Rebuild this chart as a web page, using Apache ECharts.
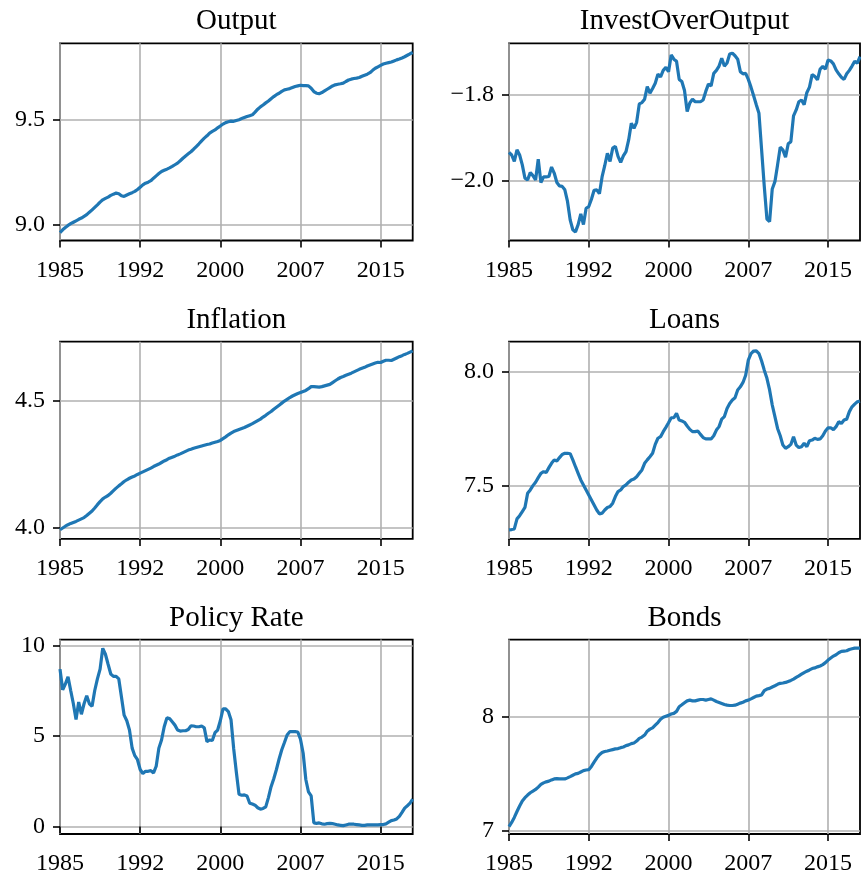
<!DOCTYPE html>
<html>
<head>
<meta charset="utf-8">
<script src="https://cdn.jsdelivr.net/npm/echarts@6/dist/echarts.min.js"></script>
<style>
  html, body { margin: 0; padding: 0; background: #fff; }
  #chart { width: 861px; height: 876px; }
</style>
</head>
<body>
<div id="chart"></div>
<script>
// quarterly data, 1985Q1 .. 2018Q1 (x = quarter index)
const xTickIndex = [0, 30, 60, 90, 120]
const xTickLabels = ['1985', '1992', '2000', '2007', '2015']

const output = [
  8.963, 8.976, 8.987, 8.997, 9.005, 9.012, 9.019, 9.026, 9.032, 9.040,
  9.048, 9.060, 9.071, 9.083, 9.095, 9.108, 9.119, 9.126, 9.132, 9.140,
  9.146, 9.151, 9.148, 9.138, 9.135, 9.142, 9.148, 9.153, 9.159, 9.168,
  9.179, 9.190, 9.198, 9.203, 9.210, 9.222, 9.233, 9.244, 9.254, 9.260,
  9.265, 9.271, 9.278, 9.286, 9.294, 9.305, 9.317, 9.328, 9.338, 9.348,
  9.360, 9.373, 9.386, 9.400, 9.413, 9.424, 9.437, 9.445, 9.452, 9.462,
  9.471, 9.480, 9.487, 9.491, 9.494, 9.493, 9.497, 9.501, 9.506, 9.511,
  9.516, 9.520, 9.524, 9.537, 9.551, 9.562, 9.571, 9.581, 9.590, 9.601,
  9.611, 9.620, 9.627, 9.636, 9.643, 9.646, 9.649, 9.654, 9.659, 9.662,
  9.665, 9.663, 9.663, 9.662, 9.651, 9.635, 9.627, 9.625, 9.630, 9.638,
  9.646, 9.654, 9.662, 9.667, 9.670, 9.672, 9.675, 9.683, 9.690, 9.694,
  9.697, 9.699, 9.702, 9.708, 9.713, 9.718, 9.725, 9.736, 9.746, 9.753,
  9.760, 9.766, 9.770, 9.773, 9.776, 9.781, 9.786, 9.790, 9.795, 9.801,
  9.808, 9.815, 9.821
]

const investOverOutput = [
  -1.934, -1.940, -1.955, -1.928, -1.940, -1.963, -1.994, -1.998, -1.981, -1.988,
  -1.998, -1.950, -2.004, -1.991, -1.991, -1.990, -1.968, -1.982, -2.004, -2.012,
  -2.013, -2.021, -2.048, -2.091, -2.114, -2.119, -2.102, -2.077, -2.102, -2.064,
  -2.060, -2.043, -2.022, -2.021, -2.030, -1.991, -1.965, -1.936, -1.955, -1.924,
  -1.920, -1.943, -1.957, -1.942, -1.932, -1.905, -1.866, -1.878, -1.864, -1.821,
  -1.818, -1.810, -1.781, -1.796, -1.785, -1.773, -1.752, -1.758, -1.743, -1.736,
  -1.746, -1.707, -1.717, -1.722, -1.764, -1.769, -1.790, -1.839, -1.819, -1.810,
  -1.816, -1.816, -1.816, -1.812, -1.792, -1.775, -1.779, -1.750, -1.743, -1.733,
  -1.715, -1.733, -1.726, -1.705, -1.703, -1.709, -1.717, -1.746, -1.751, -1.750,
  -1.764, -1.782, -1.802, -1.823, -1.843, -1.928, -2.013, -2.089, -2.095, -2.019,
  -2.002, -1.963, -1.922, -1.928, -1.945, -1.914, -1.909, -1.849, -1.835, -1.816,
  -1.812, -1.823, -1.795, -1.782, -1.753, -1.757, -1.765, -1.740, -1.734, -1.740,
  -1.719, -1.721, -1.728, -1.742, -1.751, -1.759, -1.764, -1.751, -1.743, -1.733,
  -1.722, -1.726, -1.711
]

const inflation = [
  3.991, 3.998, 4.005, 4.011, 4.016, 4.020, 4.024, 4.029, 4.034, 4.039,
  4.047, 4.056, 4.065, 4.077, 4.090, 4.102, 4.113, 4.120, 4.126, 4.135,
  4.145, 4.155, 4.164, 4.172, 4.181, 4.188, 4.194, 4.199, 4.203, 4.209,
  4.214, 4.219, 4.224, 4.229, 4.234, 4.240, 4.245, 4.250, 4.256, 4.262,
  4.267, 4.273, 4.277, 4.281, 4.286, 4.290, 4.295, 4.300, 4.305, 4.308,
  4.312, 4.315, 4.318, 4.321, 4.324, 4.327, 4.329, 4.333, 4.336, 4.339,
  4.343, 4.350, 4.357, 4.365, 4.372, 4.378, 4.382, 4.386, 4.390, 4.394,
  4.399, 4.404, 4.409, 4.415, 4.421, 4.427, 4.435, 4.442, 4.450, 4.457,
  4.466, 4.474, 4.482, 4.490, 4.498, 4.505, 4.512, 4.518, 4.523, 4.528,
  4.532, 4.536, 4.540, 4.547, 4.555, 4.555, 4.554, 4.553, 4.555, 4.558,
  4.561, 4.564, 4.571, 4.578, 4.585, 4.591, 4.595, 4.600, 4.604, 4.608,
  4.613, 4.618, 4.623, 4.627, 4.631, 4.636, 4.640, 4.644, 4.648, 4.651,
  4.650, 4.655, 4.659, 4.659, 4.658, 4.663, 4.668, 4.673, 4.677, 4.682,
  4.686, 4.691, 4.696
]

const loans = [
  7.306, 7.307, 7.310, 7.354, 7.368, 7.386, 7.404, 7.466, 7.481, 7.500,
  7.515, 7.535, 7.554, 7.561, 7.558, 7.579, 7.598, 7.613, 7.608, 7.623,
  7.637, 7.642, 7.642, 7.640, 7.613, 7.583, 7.554, 7.525, 7.503, 7.481,
  7.459, 7.437, 7.415, 7.393, 7.376, 7.379, 7.393, 7.404, 7.408, 7.423,
  7.452, 7.474, 7.481, 7.496, 7.503, 7.515, 7.525, 7.529, 7.539, 7.554,
  7.569, 7.598, 7.613, 7.627, 7.642, 7.681, 7.708, 7.715, 7.737, 7.756,
  7.776, 7.798, 7.798, 7.817, 7.788, 7.784, 7.778, 7.762, 7.747, 7.737,
  7.737, 7.740, 7.725, 7.711, 7.705, 7.705, 7.705, 7.719, 7.744, 7.759,
  7.792, 7.803, 7.839, 7.861, 7.876, 7.886, 7.920, 7.934, 7.953, 7.985,
  8.051, 8.080, 8.091, 8.092, 8.080, 8.047, 8.007, 7.971, 7.920, 7.854,
  7.803, 7.751, 7.719, 7.678, 7.664, 7.671, 7.681, 7.715, 7.678, 7.667,
  7.671, 7.686, 7.671, 7.697, 7.700, 7.708, 7.703, 7.705, 7.719, 7.740,
  7.754, 7.754, 7.746, 7.759, 7.781, 7.773, 7.788, 7.792, 7.825, 7.846,
  7.858, 7.868, 7.871
]

const policyRate = [
  8.69, 7.55, 7.87, 8.27, 7.51, 6.78, 5.91, 6.87, 6.20, 6.78,
  7.22, 6.78, 6.64, 7.51, 8.15, 8.69, 9.84, 9.51, 8.96, 8.42,
  8.29, 8.29, 8.15, 7.15, 6.15, 5.84, 5.33, 4.33, 3.91, 3.69,
  3.15, 2.93, 3.05, 3.05, 3.09, 2.96, 3.33, 4.33, 4.78, 5.51,
  6.00, 5.96, 5.78, 5.60, 5.33, 5.27, 5.29, 5.29, 5.36, 5.56,
  5.55, 5.51, 5.51, 5.55, 5.45, 4.69, 4.78, 4.75, 5.18, 5.33,
  5.84, 6.50, 6.50, 6.35, 5.90, 4.30, 3.00, 1.78, 1.73, 1.75,
  1.69, 1.29, 1.24, 1.18, 1.04, 0.96, 1.00, 1.09, 1.60, 2.20,
  2.64, 3.15, 3.73, 4.24, 4.64, 5.05, 5.24, 5.24, 5.24, 5.22,
  4.82, 4.05, 2.60, 1.91, 1.69, 0.20, 0.18, 0.20, 0.15, 0.13,
  0.16, 0.18, 0.16, 0.13, 0.09, 0.07, 0.05, 0.09, 0.13, 0.13,
  0.13, 0.11, 0.09, 0.07, 0.07, 0.09, 0.09, 0.09, 0.09, 0.09,
  0.11, 0.11, 0.15, 0.24, 0.33, 0.36, 0.42, 0.56, 0.78, 1.02,
  1.15, 1.29, 1.51
]

const bonds = [
  7.035, 7.072, 7.116, 7.168, 7.217, 7.261, 7.290, 7.313, 7.333, 7.348,
  7.362, 7.383, 7.406, 7.420, 7.429, 7.435, 7.446, 7.455, 7.458, 7.455,
  7.455, 7.455, 7.464, 7.475, 7.487, 7.499, 7.504, 7.516, 7.528, 7.533,
  7.536, 7.565, 7.603, 7.638, 7.667, 7.687, 7.696, 7.701, 7.707, 7.713,
  7.719, 7.722, 7.730, 7.736, 7.748, 7.754, 7.765, 7.771, 7.788, 7.812,
  7.823, 7.841, 7.875, 7.893, 7.904, 7.928, 7.951, 7.980, 7.997, 8.006,
  8.014, 8.026, 8.032, 8.049, 8.090, 8.107, 8.125, 8.142, 8.148, 8.142,
  8.142, 8.148, 8.154, 8.154, 8.148, 8.154, 8.159, 8.148, 8.136, 8.128,
  8.119, 8.110, 8.104, 8.101, 8.101, 8.104, 8.113, 8.122, 8.130, 8.142,
  8.148, 8.159, 8.171, 8.183, 8.188, 8.194, 8.232, 8.246, 8.252, 8.264,
  8.275, 8.287, 8.296, 8.299, 8.304, 8.313, 8.322, 8.333, 8.348, 8.362,
  8.377, 8.391, 8.403, 8.414, 8.426, 8.432, 8.441, 8.449, 8.461, 8.478,
  8.501, 8.519, 8.536, 8.548, 8.565, 8.577, 8.580, 8.583, 8.594, 8.600,
  8.606, 8.606, 8.606
]

// y tick values and their labels, per panel
const outputTicks = [9.0, 9.5]
const outputTickLabels = ['9.0', '9.5']
const investTicks = [-2.0, -1.8]
const investTickLabels = ['\u22122.0', '\u22121.8']
const inflationTicks = [4.0, 4.5]
const inflationTickLabels = ['4.0', '4.5']
const loansTicks = [7.5, 8.0]
const loansTickLabels = ['7.5', '8.0']
const policyTicks = [0, 5, 10]
const policyTickLabels = ['0', '5', '10']
const bondsTicks = [7, 8]
const bondsTickLabels = ['7', '8']

const panels = [
  { title: 'Output', values: output, min: 8.925, max: 9.865, ticks: outputTicks, labels: outputTickLabels },
  { title: 'InvestOverOutput', values: investOverOutput, min: -2.139, max: -1.68, ticks: investTicks, labels: investTickLabels },
  { title: 'Inflation', values: inflation, min: 3.955, max: 4.732, ticks: inflationTicks, labels: inflationTickLabels },
  { title: 'Loans', values: loans, min: 7.266, max: 8.132, ticks: loansTicks, labels: loansTickLabels },
  { title: 'Policy Rate', values: policyRate, min: -0.41, max: 10.32, ticks: policyTicks, labels: policyTickLabels },
  { title: 'Bonds', values: bonds, min: 6.97, max: 8.681, ticks: bondsTicks, labels: bondsTickLabels }
]

// layout of the 3x2 grid, in pixels
const colLeft = [60, 509]
const colWidth = [352.7, 351]
const rowTop = [43.3, 341.7, 639.6]
const plotHeight = 197.2

const font = '"Liberation Serif", "DejaVu Serif", serif'
const lineColor = '#1f77b4'
const gridColor = '#b0b0b0'

const chart = echarts.init(document.getElementById('chart'), null, { renderer: 'canvas' })

const grid = [], xAxis = [], yAxis = [], series = [], title = []

panels.forEach((p, i) => {
  const col = i % 2
  const row = Math.floor(i / 2)

  grid.push({
    left: colLeft[col],
    top: rowTop[row],
    width: colWidth[col],
    height: plotHeight,
    show: true,
    borderColor: '#000',
    borderWidth: 1.8,
    backgroundColor: 'transparent'
  })

  title.push({
    text: p.title,
    left: colLeft[col] + colWidth[col] / 2,
    top: rowTop[row] - 36,
    textAlign: 'center',
    padding: 0,
    textStyle: { fontFamily: font, fontSize: 29, fontWeight: 'normal', color: '#000', lineHeight: 29 }
  })

  xAxis.push({
    type: 'value',
    gridIndex: i,
    min: 0,
    max: 132,
    axisLine: { show: false },
    axisTick: {
      show: true,
      customValues: xTickIndex,
      length: 7,
      lineStyle: { color: '#000', width: 1.6 }
    },
    axisLabel: {
      customValues: xTickIndex,
      margin: 18,
      fontFamily: font,
      fontSize: 24,
      color: '#000',
      formatter: v => xTickLabels[xTickIndex.indexOf(v)]
    },
    splitLine: { show: true, lineStyle: { color: gridColor, width: 1.6 } }
  })

  yAxis.push({
    type: 'value',
    gridIndex: i,
    min: p.min,
    max: p.max,
    axisLine: { show: false },
    axisTick: {
      show: true,
      customValues: p.ticks,
      length: 7,
      lineStyle: { color: '#000', width: 1.6 }
    },
    axisLabel: {
      customValues: p.ticks,
      margin: 15,
      fontFamily: font,
      fontSize: 24,
      color: '#000',
      formatter: v => {
        const k = p.ticks.findIndex(t => Math.abs(t - v) < 1e-9)
        return k >= 0 ? p.labels[k] : ''
      }
    },
    splitLine: { show: true, lineStyle: { color: gridColor, width: 1.6 } }
  })

  series.push({
    type: 'line',
    xAxisIndex: i,
    yAxisIndex: i,
    data: p.values.map((v, k) => [k, v]),
    showSymbol: false,
    symbol: 'none',
    lineStyle: { color: lineColor, width: 3.2 },
    itemStyle: { color: lineColor },
    z: 3
  })
})

chart.setOption({
  animation: false,
  backgroundColor: '#fff',
  title: title,
  grid: grid,
  xAxis: xAxis,
  yAxis: yAxis,
  series: series
})
</script>
</body>
</html>
